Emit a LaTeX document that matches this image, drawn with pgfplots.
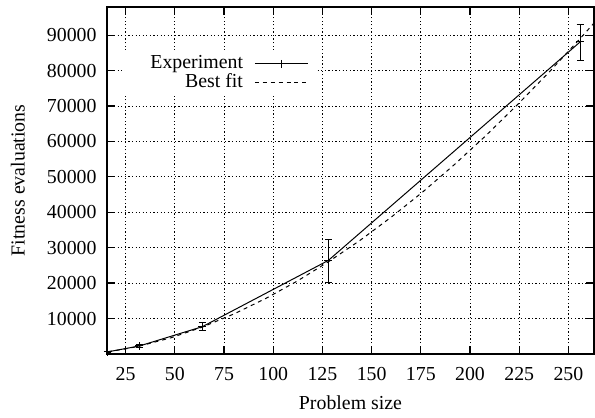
\documentclass[border=0pt]{standalone}
\usepackage{fontspec}
\setmainfont{Liberation Serif}
\usepackage{pgfplots}
\usepackage{pgfplotstable}
\pgfplotsset{compat=1.18}

% measured runs: size, mean evaluations, error up / down
\pgfplotstableread{
x    y      ep    em
16   600    100   100
32   2250   550   550
64   7700   1100  1000
128  26400  5900  6300
256  88100  5000  5300
}\experiment

% fitted curve
\pgfplotstableread{
x    y
16   647
24   1330
32   2216
48   4553
64   7590
80   11280
96   15600
112  20500
128  26000
144  32010
160  38630
176  45730
192  53420
208  61600
224  70310
240  79430
256  89050
264  94020
}\bestfit

\begin{document}
\begin{tikzpicture}[font=\fontsize{10bp}{12bp}\selectfont]
\path[use as bounding box] (-53.9bp,-31.8bp) rectangle (246bp,178.4bp);
\begin{axis}[
  scale only axis,
  width=245.5bp, height=175bp,
  xmin=15.5, xmax=263,
  ymin=0, ymax=98000,
  xtick={25,50,...,250},
  ytick={10000,20000,...,90000},
  scaled y ticks=false,
  tick pos=both,
  tick align=inside,
  major tick length=4bp,
  tick style={black, line width=0.6bp},
  axis line style={line width=1bp},
  grid=major,
  grid style={black, line width=0.4bp, dash pattern=on 0.6bp off 1.2bp},
  /pgf/number format/1000 sep={},
  /pgf/number format/assume math mode=true,
  tick label style={font=\rmfamily\fontsize{10bp}{12bp}\selectfont},
  xticklabel style={yshift=-3.3bp},
  yticklabel style={xshift=-1.7bp},
  xlabel={Problem size},
  ylabel={Fitness evaluations},
  xlabel style={at={(axis description cs:0.5,-0.141)}, anchor=center},
  ylabel style={at={(axis description cs:-0.183,0.5)}, anchor=center},
  legend image code/.code={\draw[mark repeat=2,mark phase=2,#1] plot coordinates {(0bp,0bp) (13.5bp,0bp) (27bp,0bp)};},
  legend plot pos=right,
  legend cell align=right,
  legend style={at={(axis description cs:0.037,0.876)}, anchor=north west,
    draw=none, fill=white, inner xsep=3bp, inner ysep=2.4bp,
    column sep=5.7bp, row sep=0.4bp,
    nodes={inner sep=0pt, text height=7bp, text depth=2bp}},
]
\addplot[black, line width=0.5bp, mark=+, mark size=2bp,
  error bars/.cd, y dir=both, y explicit,
  error mark options={rotate=90, mark size=1.8bp, line width=0.5bp},
  error bar style={line width=0.5bp}]
  table[x=x, y=y, y error plus=ep, y error minus=em] {\experiment};
\addlegendentry{\makebox[56.3bp][r]{Experiment}}
\addplot[black, line width=0.5bp, dash pattern=on 2bp off 2bp] table[x=x, y=y] {\bestfit};
\addlegendentry{\makebox[56.3bp][r]{Best fit}}
\end{axis}
\end{tikzpicture}
\end{document}
